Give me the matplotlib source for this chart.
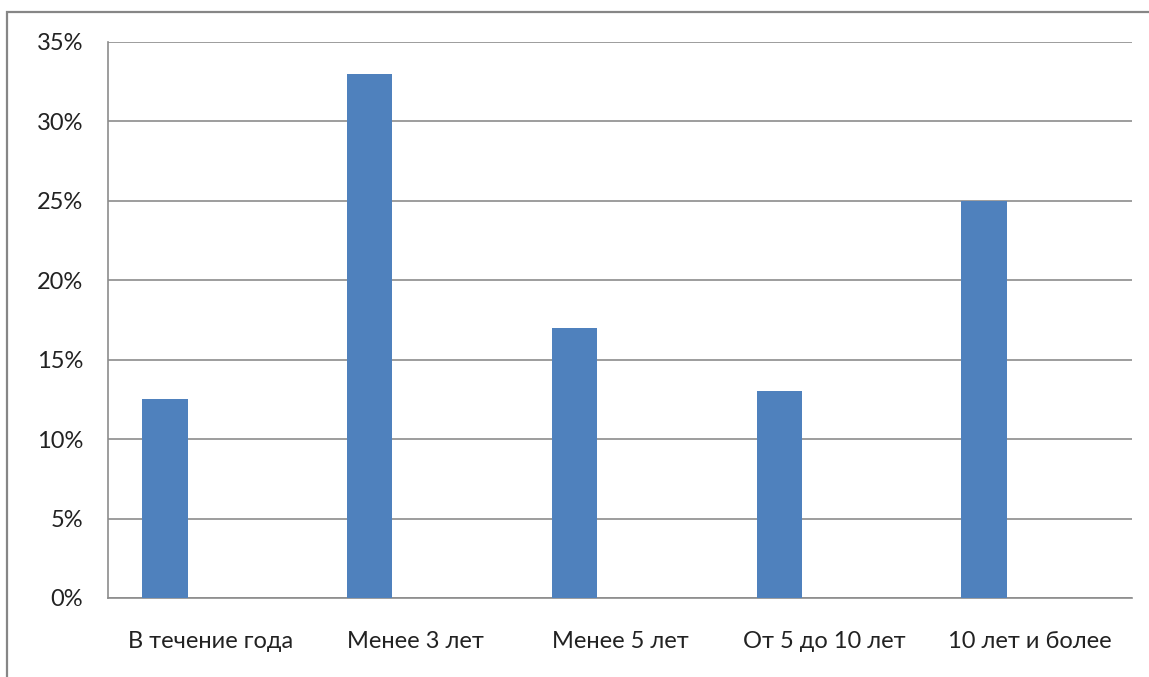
import numpy as np
import matplotlib
matplotlib.use("Agg")
import matplotlib.pyplot as plt
from matplotlib.patches import Rectangle
from matplotlib.ticker import PercentFormatter

plt.rcParams['font.family'] = ['Lato', 'DejaVu Sans']

categories = ["В течение года", "Менее 3 лет", "Менее 5 лет", "От 5 до 10 лет", "10 лет и более"]
shares = [12.5, 33.0, 17.0, 13.0, 25.0]
y_ticks = [0, 5, 10, 15, 20, 25, 30, 35]

W, H = 1149, 677
fig = plt.figure(figsize=(W / 100, H / 100), dpi=100)
ax = fig.add_axes([108 / W, 1 - 598 / H, (1132 - 108) / W, (598 - 42) / H])

# chart frame (only its left and top edges fall inside the canvas)
fig.patches.append(Rectangle((7 / W, -0.1), 1.2, 1 - 12 / H + 0.1, transform=fig.transFigure,
                             fill=False, edgecolor="#868686", lw=1.6))

x = np.arange(len(categories))
bar_w = 1 / 4.5
ax.bar(x - bar_w, shares, width=bar_w, color="#4F81BD", zorder=3)

ax.set_xlim(-0.5, len(categories) - 0.5)
ax.set_ylim(0, 35)
ax.set_yticks(y_ticks)
ax.yaxis.set_major_formatter(PercentFormatter(decimals=0))
ax.set_xticks(x)
ax.set_xticklabels(categories)
ax.tick_params(axis="both", length=0, labelsize=17, colors="#222222")
ax.tick_params(axis="x", pad=24)
ax.tick_params(axis="y", pad=18)
ax.grid(axis="y", color="#8C8C8C", lw=1.2, zorder=0)
for side in ("top", "right"):
    ax.spines[side].set_visible(False)
for side in ("left", "bottom"):
    ax.spines[side].set_color("#8C8C8C")
    ax.spines[side].set_linewidth(1.2)

fig.savefig("out.png", dpi=100)
